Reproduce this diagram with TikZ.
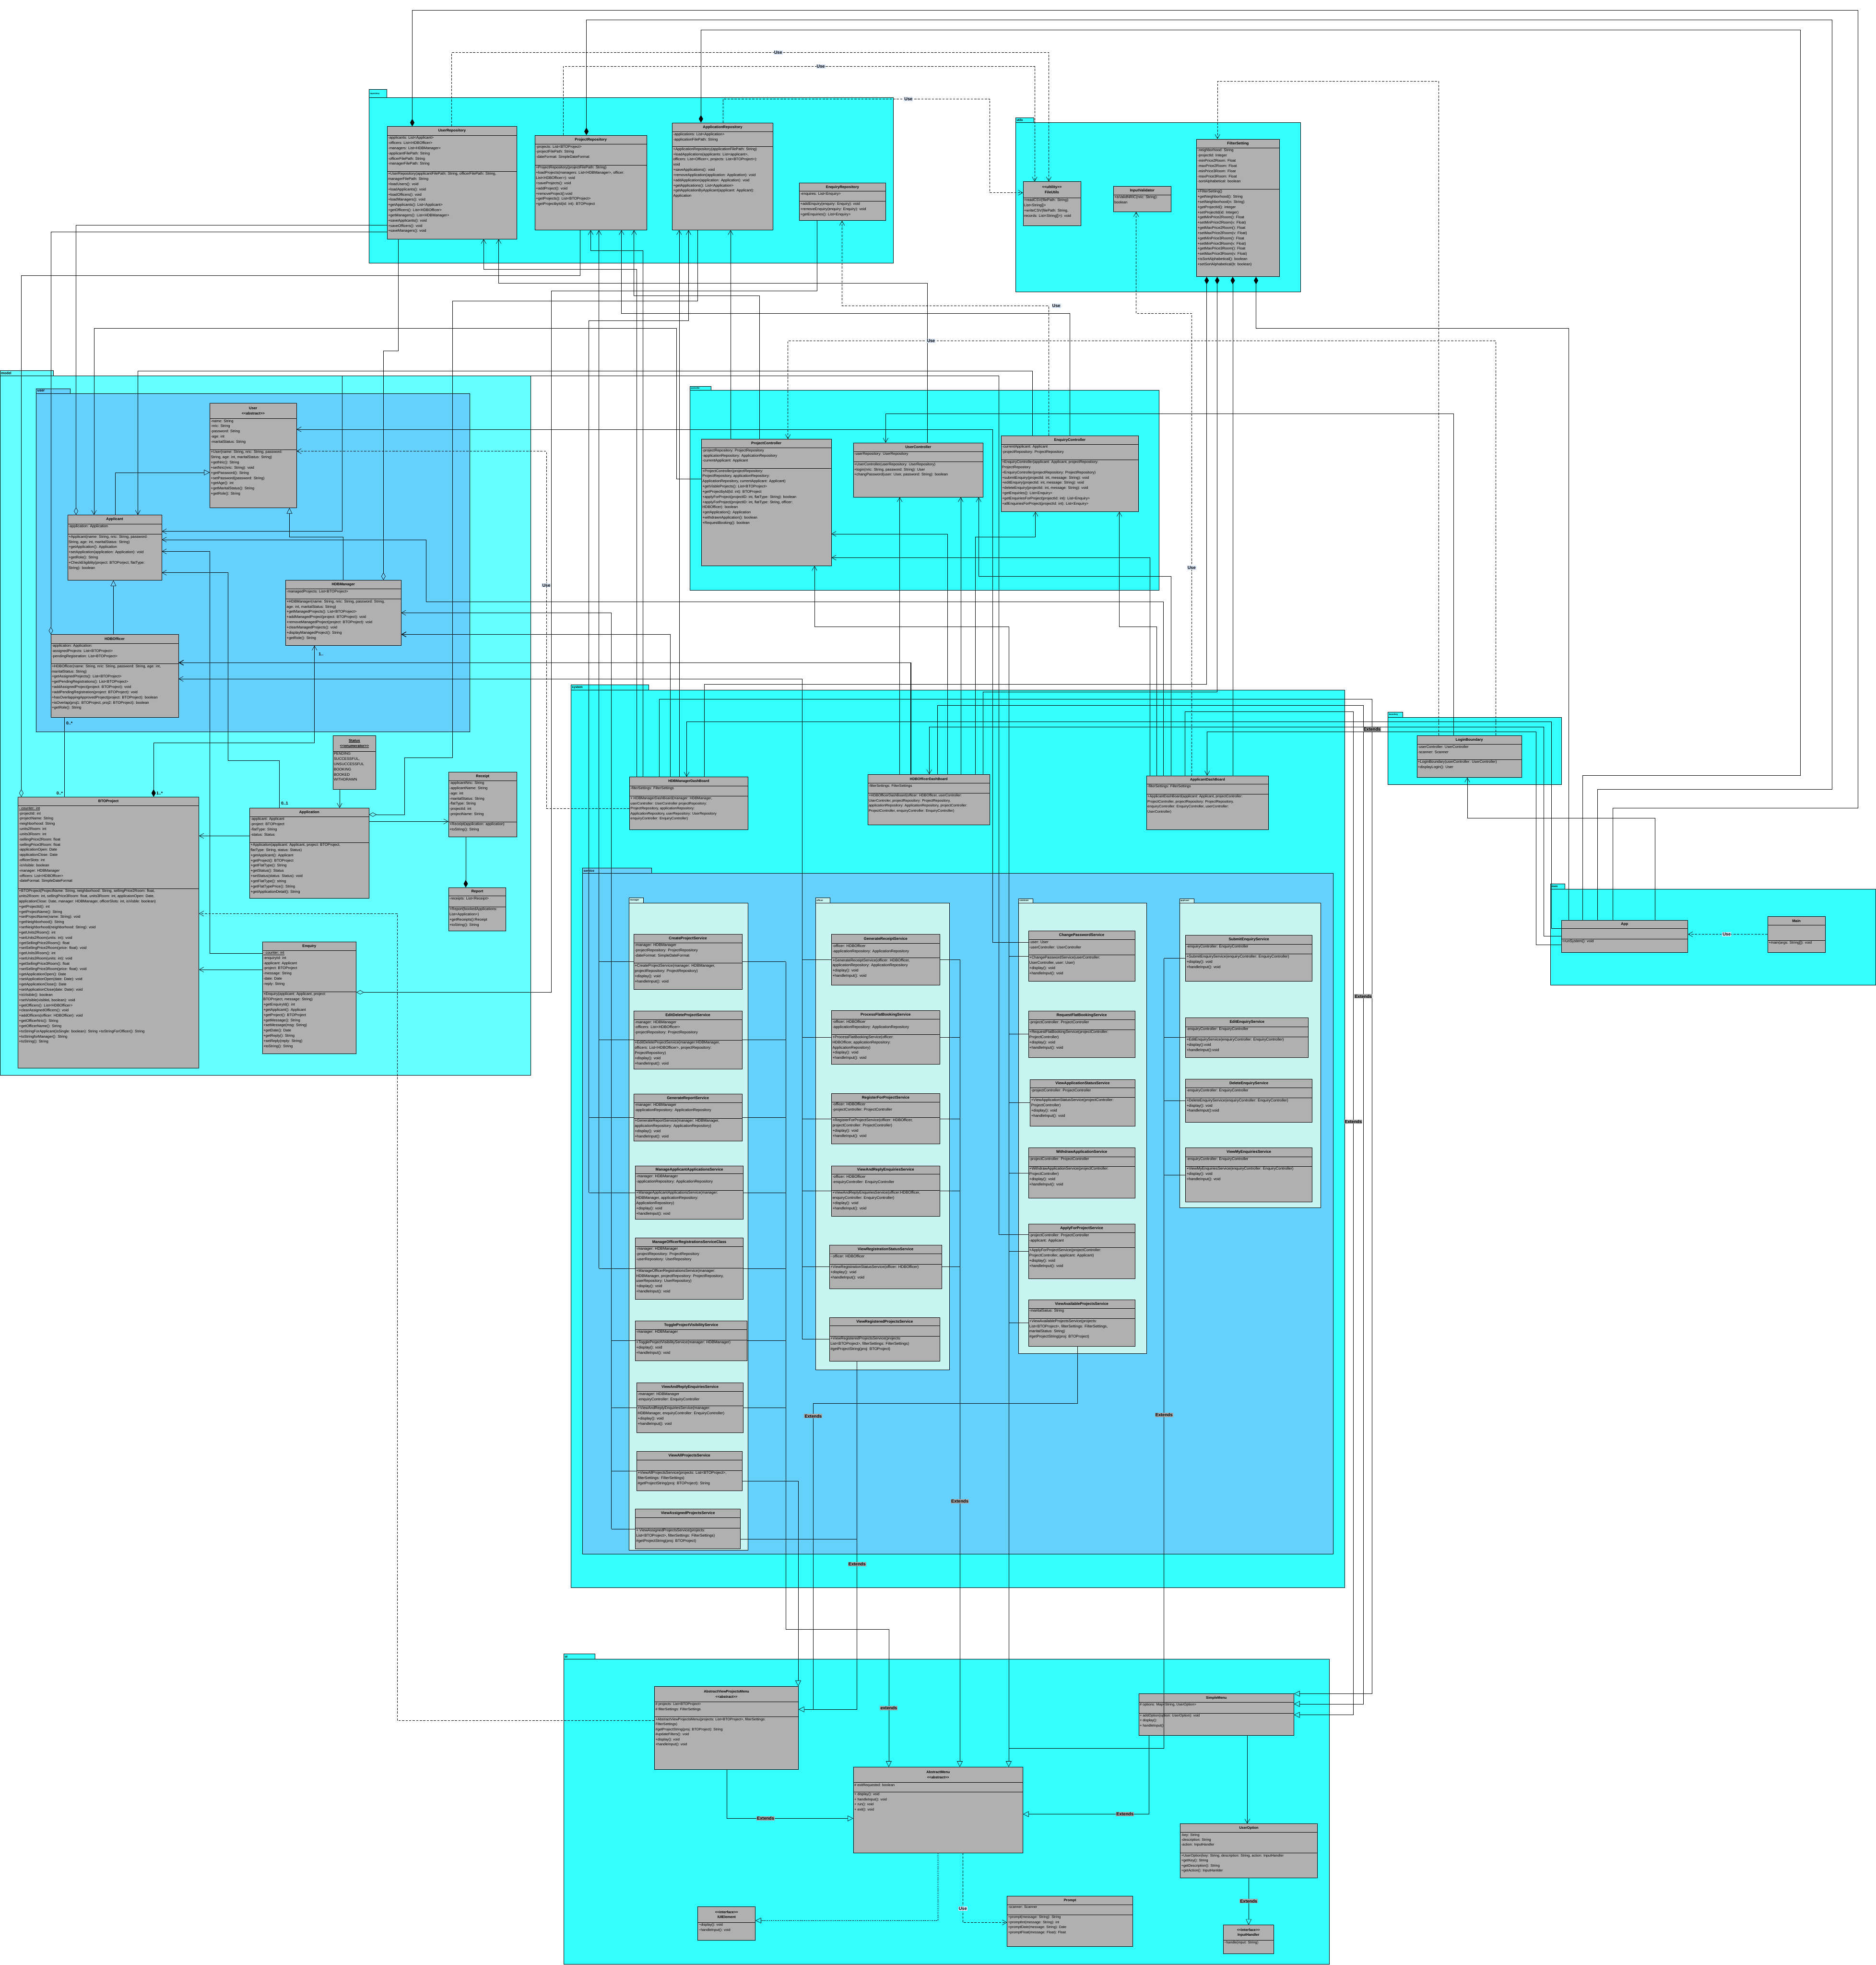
\documentclass[tikz,border=0pt]{standalone}
\usepackage{fontspec}
\setmainfont{Liberation Sans}
\usetikzlibrary{arrows.meta,positioning,fit,calc}

\definecolor{pkgcyan}{RGB}{51,255,255}
\definecolor{pkgmodel}{RGB}{102,255,255}
\definecolor{pkgblue}{RGB}{102,209,255}
\definecolor{pkgpale}{RGB}{200,245,242}
\definecolor{clsgray}{RGB}{176,176,176}
\definecolor{extgray}{RGB}{165,165,165}
\definecolor{usefill}{RGB}{214,228,245}

\newcommand{\st}[1]{<{}<#1>{}>}
\newcommand{\clsfont}{\fontsize{8.4}{11.8}\selectfont}

% class box: name, nw corner, se corner, y of title line, y of attribute line, title, attributes, operations
\newcommand{\umlclass}[8]{%
  \coordinate (#1-nw) at (#2);
  \coordinate (#1-se) at (#3);
  \node[clsbox, fit=(#1-nw)(#1-se)] (#1) {};
  \draw[line width=0.8pt] (#1-nw |- 0,#4) -- (#1-se |- 0,#4);
  \draw[line width=0.8pt] (#1-nw |- 0,#5) -- (#1-se |- 0,#5);
  \path (#1-nw) -- (#1-se |- 0,#4) node[midway, clstitle] (#1-title) {#6};
  \node[clstext, anchor=north west] (#1-attrs) at (#1-nw |- 0,#4) {#7};
  \node[clstext, anchor=north west] (#1-ops) at (#1-nw |- 0,#5) {#8};
}
% package: name, nw corner, se corner, tab width, tab height, colour, label size
\newcommand{\umlpkg}[7]{%
  \draw[fill=#6, line width=0.6pt] (#2) rectangle (#3);
  \draw[fill=#6, line width=0.6pt] (#2) rectangle ++(#4,-#5);
  \node[pkgtab, font=\fontsize{#7}{#7}\selectfont\bfseries] (#1pkg) at ($(#2)+(0.4,-#5/2)$) {#1};
}

\tikzset{
  clsbox/.style={draw, fill=clsgray, inner sep=0pt, line width=0.8pt},
  clstitle/.style={font=\clsfont\bfseries, align=center, inner sep=0pt},
  clstext/.style={font=\clsfont, align=left, inner sep=0.7mm},
  pkgtab/.style={inner sep=0.3mm, anchor=west},
  conn/.style={draw, line width=0.7pt},
  assoc/.style={conn, -{Straight Barb[length=3.5mm, width=4mm]}},
  thickassoc/.style={assoc, line width=1.4pt},
  dep/.style={assoc, dash pattern=on 5pt off 3pt},
  inherit/.style={conn, -{Triangle[open, length=4.5mm, width=4.5mm]}},
  realize/.style={inherit, dash pattern=on 3pt off 2pt},
  comp/.style={conn, {Diamond[length=6mm, width=3.4mm]}-},
  compassoc/.style={conn, {Diamond[length=6mm, width=3.4mm]}-{Straight Barb[length=3.5mm, width=4mm]}},
  agg/.style={conn, {Diamond[open, length=6mm, width=3.4mm]}-},
  ext/.style={font=\fontsize{10}{12}\selectfont\bfseries, fill=extgray, inner sep=0.4mm},
  usel/.style={font=\fontsize{10}{12}\selectfont\bfseries, fill=usefill, inner sep=0.4mm},
  mult/.style={font=\fontsize{9.5}{11}\selectfont\bfseries, inner sep=0.3mm},
}

\begin{document}
\begin{tikzpicture}[x=1mm, y=-1mm]
\useasboundingbox (0,0) rectangle (1497,1568);

% packages
\umlpkg{repository}{294.5,78}{713,210}{14}{6.7}{pkgcyan}{4.5}
\umlpkg{utils}{810.5,97.8}{1038,233}{14.5}{3.8}{pkgcyan}{7}
\umlpkg{model}{0,299.7}{423.4,858}{42.7}{4}{pkgmodel}{8}
\umlpkg{user}{29,314}{375,584}{27}{4}{pkgblue}{8}
\umlpkg{controller}{550.4,311.2}{925,471}{17}{2.8}{pkgcyan}{4.5}
\umlpkg{system}{455.7,550.7}{1073,1267}{62}{4.5}{pkgcyan}{7}
\umlpkg{service}{465,697}{1064,1240}{55}{4.5}{pkgblue}{7}
\umlpkg{manager}{502,720.7}{597,1236.8}{11.6}{4.4}{pkgpale}{5}
\umlpkg{officer}{650.8,720.7}{757.6,1093}{11.6}{4.4}{pkgpale}{5}
\umlpkg{common}{812.8,720.6}{915,1080}{11.5}{3.6}{pkgpale}{5}
\umlpkg{applicant}{941.3,720.6}{1053.8,963.5}{11.5}{3.6}{pkgpale}{4.5}
\umlpkg{boundary}{1107.7,572.3}{1246,626}{11.7}{4.1}{pkgcyan}{4.5}
\umlpkg{main}{1237.5,709.3}{1497,786}{11.5}{4.1}{pkgcyan}{6}
\umlpkg{ui}{450,1323.7}{1061,1567.4}{24.6}{3.9}{pkgcyan}{7}

% repository
\umlclass{urepo}{309,101}{412.5,190.6}{108}{136.7}{UserRepository}
  {-applicants: List<Applicant>\\-officers: List<HDBOfficer>\\-managers: List<HDBManager>\\-applicantFilePath: String\\-officerFilePath: String\\-managerFilePath: String}
  {+UserRepository(applicantFilePath: String, officerFilePath: String,\\managerFilePath: String\\+loadUsers(): void\\+loadApplicants(): void\\+loadOfficers(): void\\+loadManagers(): void\\+getApplicants(): List<Applicant>\\+getOfficers(): List<HDBOfficer>\\+getManagers(): List<HDBManager>\\+saveApplicants(): void\\+saveOfficers(): void\\+saveManagers(): void}
\umlclass{prepo}{427,108}{516,183.5}{115}{131.8}{ProjectRepository}
  {-projects: List<BTOProject>\\-projectFilePath: String\\-dateFormat: SimpleDateFormat}
  {+ProjectRepository(projectFilePath: String)\\+loadProjects(managers: List<HDBManager>, officer:\\List<HDBOfficer>): void\\+saveProjects(): void\\+addProject(): void\\+removeProject():void\\+getProjects(): List<BTOProject>\\+getProjectbyId(id: int): BTOProject}
\umlclass{arepo}{536.5,98}{617,183.5}{105.2}{117}{ApplicationRepository}
  {-applications: List<Application>\\-applicationFilePath: String}
  {+ApplicationRepository(applicationFilePath: String)\\+loadApplications(applicants: List<applicant>,\\officers: List<Officer>, projects: List<BTOProject>):\\void\\+saveApplications(): void\\+removeApplication(application: Application): void\\+addApplication(application: Application): void\\+getApplications(): List<Application>\\+getApplicationByApplicant(applicant: Applicant):\\Application}
\umlclass{erepo}{638,146}{706.7,176}{152.6}{160.7}{EnquiryRepository}
  {-enquires: List<Enquiry>}
  {+addEnquiry(enquiry: Enquiry): void\\+removeEnquiry(enquiry: Enquiry): void\\+getEnquiries(): List<Enquiry>}

% utils
\umlclass{futils}{816.5,145}{862.5,180}{157.7}{157.7}{\st{ultility}\\FileUtils}{}
  {+readCSV(filePath: String):\\List<String[]>\\+writeCSV(filePath: String,\\records: List<String[]>): void}
\umlclass{ival}{888.5,148.6}{934.6,169}{155.5}{155.5}{InputValidator}{}
  {+isValidNRIC(nric: String):\\boolean}
\umlclass{fset}{955,111}{1021,220.7}{118}{150.9}{FilterSetting}
  {-neighborhood: String\\-projectId: Integer\\-minPrice2Room: Float\\-maxPrice2Room: Float\\-minPrice3Room: Float\\-maxPrice3Room: Float\\-sortAlphabetical: boolean}
  {+FIlterSetting()\\+getNeighborhood(): String\\+setNeighborhood(n: String)\\+getProjectId(): Integer\\+setProjectId(id: Integer)\\+getMinPrice2Room(): Float\\+setMinPrice2Room(v: Float)\\+getMaxPrice2Room(): Float\\+setMaxPrice2Room(v: Float)\\+getMinPrice3Room(): Float\\+setMinPrice3Room(v: Float)\\+getMaxPrice3Room(): Float\\+setMaxPrice3Room(v: Float)\\+isSortAlphabetical(): boolean\\+setSortAlphabetical(b: boolean)}

% model
\umlclass{user}{167.5,321.8}{236.6,405.2}{334}{358.8}{User\\\st{abstract}}
  {-name: String\\-nric: String\\-password: String\\-age: int\\-maritalStatus: String}
  {+User(name: String, nric: String, password:\\String, age: int, maritalStatus: String)\\+getNric(): String\\+setNric(nric: String): void\\+getPassword(): String\\+setPassword(password: String)\\+getAge(): int\\+getMaritalStatus(): String\\+getRole(): String}
\umlclass{applicant}{54,411}{129,463}{418}{426.3}{Applicant}
  {-application: Application}
  {+Applicant(name: String, nric: String, password:\\String, age: int, maritalStatus: String)\\+getApplication(): Application\\+setApplication(application: Application): void\\+getRole(): String\\+CheckEligiblity(project: BTOPorject, flatType:\\String): boolean}
\umlclass{hmgr}{228,463}{320,515}{470}{478}{HDBManager}
  {-managedProjects: List<BTOProject>}
  {+HDBManager(name: String, nric: String, password: String,\\age: int, maritalStatus: String)\\+getManagedProjects(): List<BTOProject>\\+addManagedProject(project: BTOProject): void\\+removeManagedProject(project: BTOProject): void\\+clearManagedProjects(): void\\+displayManagedProject(): String\\+getRole(): String}
\umlclass{hoff}{40.6,506.4}{142.4,572.6}{513.4}{529.7}{HDBOfficer}
  {-application: Application:\\-assignedProjects: List<BTOProject>\\-pendingRegistration: List<BTOProject>}
  {+HDBOfficer(name: String, nric: String, password: String, age: int,\\maritalStatus: String)\\+getAssignedProjects(): List<BTOProject>\\+getPendingRegistrations(): List<BTOProject>\\+addAssignedProject(project: BTOProject): void\\+addPendingRegistration(project: BTOProject): void\\+hasOverlappingApprovedProject(project: BTOProject): boolean\\+isOverlap(proj1: BTOProject, proj2: BTOProject): boolean\\+getRole(): String}
\umlclass{btop}{14.4,636}{158.7,852.3}{643}{709}{BTOProject}
  {\underline{- counter: int}\\-projectId: int\\-projectName: String\\-neighborhood: String\\-units2Room: int\\-units3Room: int\\-sellingPrice2Room: float\\-sellingPrice3Room: float\\-applicationOpen: Date\\-applicationClose: Date\\-officerSlots: int\\-isVisible: boolean\\-manager: HDBManager\\-officers: List<HDBOfficer>\\-dateFormat: SimpleDateFormat}
  {+BTOProject(ProjectName: String, neighborhood: String, sellingPrice2Room: float,\\units2Room: int, sellingPrice3Room: float, units3Room: int, applicaionOpen: Date,\\applicationClose: Date, manager: HDBManager, officerSlots: int, isVisble: boolean)\\+getProjectId(): int\\+getProjectName(): String\\+setProjectName(name: String): void\\+getNeighborhood(): String\\+setNeighborhood(neighborhood: String): void\\+getUnits2Room(): int\\+setUnits2Room(units: int): void\\+getSellingPrice2Room(): float\\+setSellingPrice2Room(price: float): void\\+getUnits3Room(): int\\+setUnits3Room(units: int): void\\+getSellingPrice3Room(): float\\+setSellingPrice3Room(price: float): void\\+getApplicationOpen(): Date\\+setApplicationOpen(date: Date): void\\+getApplicationClose(): Date\\+setApplicationClose(date: Date): void\\+isVisible(): boolean\\+setVisible(visibleL boolean): void\\+getOfficers(): List<HDBOfficer>\\+clearAssignedOfficers(): void\\+addOfficers(officer: HDBOfficer): void\\+getOfficerNric(): String\\+getOfficerName(): String\\+toStringForApplicant(isSingle: boolean): String +toStringForOfficer(): String\\+toStringforManager(): String\\+toString(): String}
\umlclass{status}{265.7,587}{300,630}{599.6}{599.6}{\underline{Status}\\\underline{\st{enumerator}}}{}
  {PENDING\\SUCCESSFUL,\\UNSUCCESSFUL\\BOOKING\\BOOKED\\WITHDRAWN}
\umlclass{appl}{199.3,644.8}{294.4,716.8}{651.6}{672.2}{Application}
  {-applicant: Applicant\\-project: BTOProject\\-flatType: String\\-status: Status}
  {+Application(applicant: Applicant, project: BTOProject,\\flatType: String, status: Status)\\+getApplicant(): Applicant\\+getProject(): BTOProject\\+getFlatType(): String\\+getStatus(): Status\\+setStatus(status: Status): void\\+getFlatType(): string\\+getFlatTypePrice(): String\\+getApplicationDetail(): String}
\umlclass{receipt}{358,616}{412.5,667.7}{622.8}{655.8}{Receipt}
  {-applicantNric: String\\-applicantName: String\\-age: int\\-maritalStatus: String\\-flatType: String\\-projectId: int\\-projectName: String}
  {+Receipt(application: application)\\+toString(): String}
\umlclass{report}{358,708.3}{403.8,742.7}{715}{723.6}{Report}
  {-receipts: List<Receipt>}
  {+Report(bookedApplications:\\List<Application>)\\+getReceipts():Receipt\\+toString(): String}
\umlclass{enq}{209.4,751.5}{284.3,840.8}{758.3}{791.4}{Enquiry}
  {\underline{- counter: int}\\-enquiryId: int\\-applicant: Applicant\\-project: BTOProject\\-message: String\\-date: Date\\-reply: String}
  {+Enquiry(applicant: Applicant, project:\\BTOProject, message: String)\\+getEnquiryId(): int\\+getApplicant(): Applicant\\+getProject(): BTOProject\\+getMessage(): String\\+setMessage(msg: String)\\+getDate(): Date\\+getReply(): String\\+setReply(reply: String)\\+toString(): String}

% controller
\umlclass{pctrl}{559.8,350.5}{663.4,451.4}{357.4}{373.8}{ProjectController}
  {-projectRepository: ProjectRepository\\-applicationRepository: ApplicationRepository\\-currentApplicant: Applicant}
  {+ProjectController(projectRepository:\\ProjectRepository, applicationRepository:\\ApplicationRepository, currentApplicant: Applicant)\\+getVisbleProjects(): List<BTOProject>\\+getProjectbyId(Id: int): BTOProject\\+applyForProject(projectID: int, flatType: String): boolean\\+applyForProject(projectID: int, flatType: String, officer:\\HDBOfficer): boolean\\+getApplication(): Application\\+withdrawnApplication(): boolean\\+RequestBooking(): boolean}
\umlclass{uctrl}{681,353.4}{784.7,396.6}{360.3}{368.5}{UserController}
  {-userRepository: UserRepository}
  {+UserController(userRepository: UserRepository)\\+login(nric: String, password: String): User\\+changPassword(user: User, password: String): boolean}
\umlclass{ectrl}{799,347.7}{908.6,408.2}{354.5}{366.7}{EnquiryController}
  {-currentApplicant: Applicant\\-projectRepository: ProjectRepository}
  {+EnquiryController(applicant: Applicant, projectRepostiory:\\ProjectRepostory\\+EnquiryController(projectRepository: ProjectRepository)\\+submitEnquiry(projectId: int, message: String): void\\+editEnquiry(projectId: int, message: String): void\\+deleteEnquiry(projectId: int, message: String): void\\+getEnquiries(): List<Enquiry>\\+getEnquiriesForProject(projectId: int): List<Enquiry>\\+allEnquiriesForProject(projectId: int): List<Enquiry>}

% boundary and main
\umlclass{lb}{1130.8,587}{1214.4,620.3}{594}{606}{LoginBoundary}
  {-userController: UserController\\-scanner: Scanner}
  {+LoginBoundary(userController: UserController)\\+displayLogin(): User}
\umlclass{app}{1246,734.2}{1347,760}{741}{749.3}{App}{}{+runSystem(): void}
\umlclass{mainc}{1410.7,731.3}{1456.6,760}{738.2}{750.4}{Main}{}{+main(args: String[]): void}

% system dashboards
\renewcommand{\clsfont}{\fontsize{8}{11.3}\selectfont}
\umlclass{mdash}{502.4,620}{597,662}{627.2}{635.3}{HDBManagerDashBoard}
  {-filterSettings: FilterSettings}
  {+ HDBManagerDashBoard(manager: HDBManager,\\userController: UserController projectRepository:\\ProjectRepository, applicationRepsoitory:\\ApplicationRepository, userRepository: UserRepository\\enquiryController: EnquiryController)}
\umlclass{odash}{692.5,618}{790,658.3}{625}{633}{HDBOfficerDashBoard}
  {-filterSettings: FilterSettings}
  {+HDBOfficerDashBoard(officer: HDBOfficer, userController:\\UserControler, projectRepository: ProjectRepository,\\applicationRepository: ApplicationRepository, projectController:\\ProjectController, enquiryController: EnquiryController)}
\umlclass{adash}{915,619}{1012.4,662}{625.6}{633.8}{ApplicantDashBoard}
  {-filterSettings: FilterSettings}
  {+ApplicantDashBoard(applicant: Applicant, projectController:\\ProjectController, projectRepository: ProjectRepository,\\enquiryController: EnquiryController, userController:\\UserController)}

% services
\renewcommand{\clsfont}{\fontsize{8.6}{11.9}\selectfont}
\umlclass{cps}{505.8,745.5}{592.2,789.3}{752.2}{768.5}{CreateProjectService}
  {-manager: HDBManager\\-projectRepository: ProjectRepository\\-dateFormat: SimpleDateFormat}
  {+CreateProjectService(manager: HDBManager,\\projectRepository: ProjectRepository)\\+display(): void\\+handleInput(): void}
\umlclass{edps}{505.8,806.7}{592.2,852.9}{813.7}{830}{EditDeleteProjectService}
  {-manager: HDBManager\\-officers: List<HDBOfficer>\\-projectRepository: ProjectRepository}
  {+EditDeleteProjectService(manager:HDBManager,\\officers: List<HDBOfficer>, projectRepository:\\ProjectRepository)\\+display(): void\\+handleInput(): void}
\umlclass{grs}{505.8,873}{592.2,910.5}{879.7}{892.4}{GenerateReportService}
  {-manager: HDBManager\\-applicationRepository: ApplicationRepository}
  {+GenerateReportService(manager: HDBManager,\\applicationRepository: ApplicationRepository)\\+display(): void\\+handleInput(): void}
\umlclass{maas}{507,930.2}{593.3,973}{936.6}{949.7}{ManageApplicantApplicationsService}
  {-manager: HDBManager\\-applicationRepository: ApplicationRepository}
  {+ManageApplicantApplicationsService(manager:\\HDBManager, applicationRepository:\\ApplicationRepository)\\+display(): void\\+handleInput(): void}
\umlclass{mors}{507,987.8}{593.3,1036.7}{994.5}{1011.9}{ManageOfficerRegistrationsServiceClass}
  {-manager: HDBManager\\-projectRepository: ProjectRepository\\-userRepository: UserRepository}
  {+ManageOfficerRegistrationsService(manager:\\HDBManager, projectRepository: ProjectRepository,\\userRepository: UserRepository)\\+display(): void\\+handleInput(): void}
\umlclass{tpvs}{507,1054}{596.2,1085.6}{1060.8}{1069.2}{ToggleProjectVisibilityService}
  {-manager: HDBManager}
  {+ToggleProjectVisibilityService(manager: HDBManager)\\+display(): void\\+handleInput(): void}
\umlclass{mvres}{508.2,1103.4}{593.2,1143.2}{1110.4}{1121.7}{ViewAndReplyEnquiriesService}
  {-manager: HDBManager\\-enquiryController: EnquiryController}
  {+ViewAndReplyEnquiriesService(manager:\\HDBManager, enquiryController: EnquiryController)\\+display(): void\\+handleInput(): void}
\umlclass{vaps}{508.2,1158}{592.2,1189.7}{1165}{1173.4}{ViewAllProjectsService}{}
  {+ViewAllProjectsService(projects: List<BTOProject>,\\filterSettings: FilterSettings)\\\#getProjectString(proj: BTOProject): String}
\umlclass{vasps}{507,1204}{591,1236}{1211}{1219.2}{ViewAssignedProjectsService}{}
  {+ ViewAssignedProjectsService(projects:\\List<BTOProject>, filterSettings: FilterSettings)\\\#getProjectString(proj: BTOProject)}

\umlclass{grcs}{663.6,745.5}{750,786}{752.8}{764.2}{GenerateReceiptService}
  {-officer: HDBOfficer\\-applicationRepository: ApplicationRepository}
  {+GenerateReceiptService(officer: HDBOfficer,\\applicationRepository: ApplicationRepository\\+display(): void\\+handleInput(): void}
\umlclass{pfbs}{663.6,806.4}{750,849.2}{813.4}{825.5}{ProcessFlatBookingService}
  {-officer: HDBOfficer\\-applicationRepository: ApplicationRepository}
  {+ProcessFlatBookingService(officer:\\HDBOfficer, applicationRepository:\\ApplicationRepository)\\+display(): void\\+handleInput(): void}
\umlclass{rfps}{663.6,872.7}{750,912.8}{879.4}{891.8}{RegisterForProjectService}
  {-officer: HDBOfficer\\-projectController: ProjectController}
  {+RegisterForProjectService(officer: HDBOfficer,\\projectController: ProjectController)\\+display(): void\\+handleInput(): void}
\umlclass{ovres}{663.6,930.2}{750,970.4}{937}{949.7}{ViewAndReplyEnquiriesService}
  {-officer: HDBOfficer\\-enquiryController: EnquiryController}
  {+ViewAndReplyEnquiriesService(officer:HDBOfficer,\\enquiryController: EnquiryController)\\+display(): void\\+handleInput(): void}
\umlclass{vrss}{662,993.5}{751.5,1028.3}{1000.5}{1009}{ViewRegistrationStatusService}
  {- officer: HDBOfficer}
  {+ViewRegistrationStatusService(officer: HDBOfficer)\\+display(): void\\+handleInput(): void}
\umlclass{vrps}{662,1051.4}{750,1086}{1058}{1066.2}{ViewRegisteredProjectsService}{}
  {+ViewRegisteredProjectsService(projects:\\List<BTOProject>, filterSettings: FilterSettings)\\\#getProjectString(proj: BTOProject)}

\umlclass{chps}{820.7,742.7}{905.8,783.1}{749.8}{762}{ChangePasswordService}
  {-user: User\\-userController: UserController}
  {+ChangePasswordService(userController:\\UserController, user: User)\\+display(): void\\+handleInput(): void}
\umlclass{rfbs}{820.7,806.6}{905.8,843.8}{813.7}{821.5}{RequestFlatBookingService}
  {-projectController: ProjectController}
  {+RequestFlatBookingService(projectController:\\ProjectController)\\+display(): void\\+handleInput(): void}
\umlclass{vass}{822.2,861.3}{905.8,898.4}{868}{875.8}{ViewApplicationStatusService}
  {-projectController: ProjectController}
  {+ViewApplicationStatusService(projectController:\\ProjectController)\\+display(): void\\+handleInput(): void}
\umlclass{was}{820.7,916}{905.8,956.2}{922.9}{930.7}{WithdrawApplicationService}
  {-projectController: ProjectController}
  {+WithdrawApplicationService(projectController:\\ProjectController)\\+display(): void\\+handleInput(): void}
\umlclass{afps}{820.7,976.6}{905.8,1020.3}{983.6}{995.5}{ApplyForProjectService}
  {-projectController: ProjectController\\-applicant: Applicant}
  {+ApplyForProjectService(projectController:\\ProjectController, applicant: Applicant)\\+display(): void\\+handleInput(): void}
\umlclass{vavps}{820.7,1037}{905.8,1074.4}{1044}{1052.1}{ViewAvailableProjectsService}
  {-maritalSatus: String}
  {+ViewAvailableProjectsService(projects:\\List<BTOProject>, filterSettings: FilterSettings,\\maritalStatus: String)\\\#getProjectString(proj: BTOProject)}

\umlclass{ses}{946.2,746.4}{1047.2,783}{753.4}{761.2}{SubmitEnquiryService}
  {-enquiryController: EnquiryController}
  {+SubmitEnquiryService(enquiryController: EnquiryController)\\+display(): void\\+handleInput(): void}
\umlclass{ees}{946.2,812}{1044.2,843.8}{819.2}{827.5}{EditEnquiryService}
  {-enquiryController: EnquiryController}
  {+EditEnquiryService(enquiryController: EnquiryController)\\+display():void\\+handleInput():void}
\umlclass{des}{946.2,861}{1047.2,895.7}{868}{876}{DeleteEnquiryService}
  {-enquiryController: EnquiryController}
  {+DeleteEnquiryService(enquiryController: EnquiryController)\\+display(): void\\+handleInput():void}
\umlclass{vmes}{946.2,915.9}{1047.2,959}{922.9}{930.7}{ViewMyEnquiriesService}
  {-enquiryController: EnquiryController}
  {+ViewMyEnquiriesService(enquiryController: EnquiryController)\\+display(): void\\+handleInput(): void}

% ui
\renewcommand{\clsfont}{\fontsize{8}{11.4}\selectfont}
\umlclass{avpm}{522.4,1345.6}{637.2,1412}{1358}{1370}{AbstractViewProjectsMenu\\\st{abstract}}
  {\# projects: List<BTOProject>\\\# filterSettings: FilterSettings}
  {+AbstractViewProjectsMenu(projects: List<BTOProject>, filterSettings:\\FilterSettings)\\\#getProjectString(proj: BTOProject): String\\\#updateFilters(): void\\+display(): void\\+handleInput(): void}
\umlclass{amenu}{681.1,1410}{816.3,1478.4}{1422.4}{1430}{AbstractMenu\\\st{abstract}}
  {\# exitRequested: boolean}
  {+ display(): void\\+ handleInput(): void\\+ run(): void\\+ exit(): void}
\umlclass{smenu}{908.8,1351.4}{1032.6,1384.6}{1358.3}{1367}{SimpleMenu}
  {\# options: Map<String, UserOption>}
  {+ addOption(option: UserOption): void\\+ display():\\+ handleInput():}
\umlclass{uopt}{942,1455.3}{1051.4,1498.4}{1462.2}{1478.7}{UserOption}
  {-key: String\\-description: String\\-action: InputHandler}
  {+UserOption(key: String, description: String, action: InputHandler\\+getKey(): String\\+getDescription(): String\\+getAction(): InputHanlder}
\umlclass{iui}{556.9,1521.6}{602.8,1548.2}{1534}{1534}{\st{interface}\\IUIElement}{}
  {\textasciitilde display(): void\\\textasciitilde handleInput(): void}
\umlclass{prompt}{803.8,1513}{904,1553.3}{1520}{1528}{Prompt}
  {-scanner: Scanner}
  {+prompt(message: String): String\\+promptInt(message: String): int\\+promptDate(message: String): Date\\+promptFloat(message: Float): Float}
\umlclass{ihandler}{976.2,1536.1}{1016.5,1559}{1548.3}{1548.3}{\st{interface}\\InputHandler}{}
  {\textasciitilde handle(input: String)}

% bus coordinates
\coordinate (mbusr) at (627,0);
\coordinate (mbusl) at (488,0);
\coordinate (mbusp) at (478,0);
\coordinate (mbusa) at (470,0);
\coordinate (obusl) at (640,0);
\coordinate (obusr) at (766,0);
\coordinate (cbus) at (805,0);
\coordinate (abus) at (929,0);

% model relations
\draw[inherit] (applicant.north -| 92,0) |- (user.west |- 0,377);
\draw[inherit] (hmgr.north -| 274,0) |- (231,428.5) -- (user.south -| 231,0);
\draw[inherit] (hoff.north -| 90.5,0) -- (applicant.south -| 90.5,0);
\draw[assoc] (appl.north -| 223,0) |- (182,607) |- (applicant.east |- 0,457);
\draw[assoc] (enq.west |- 0,760.8) -| (167.5,440) -- (applicant.east |- 0,440);
\draw[assoc] (appl.west |- 0,667) -- (btop.east |- 0,667);
\draw[assoc] (enq.west |- 0,773.7) -- (btop.east |- 0,773.7);
\draw[assoc] (status.south -| 271,0) -- (appl.north -| 271,0);
\draw[assoc] (appl.east |- 0,655.5) -- (receipt.west |- 0,655.5);
\draw[comp] (report.north -| 371.7,0) -- (receipt.south -| 371.7,0);
\draw[conn] (hoff.south -| 51.5,0) -- (btop.north -| 51.5,0);
\draw[compassoc] (btop.north -| 122.6,0) |- (251,592.7) -- (hmgr.south -| 251,0);
\draw[agg] (appl.east |- 0,650) -| (323,604.4) -| (361,240) -| (arepo.south -| 556.8,0);
\draw[agg] (enq.east |- 0,791.8) -| (440,232) -| (erepo.south -| 652,0);
\draw[dep] (avpm.west |- 0,1373) -| (317,729) -- (btop.east |- 0,729);
\draw[agg] (hmgr.north -| 306,0) -- (306,280) -| (urepo.south -| 318,0);
\draw[agg] (applicant.north -| 60.7,0) |- (urepo.west |- 0,179.5);
\draw[agg] (hoff.north -| 40.6,0) |- (urepo.west |- 0,185);
\draw[agg] (btop.north -| 17,0) |- (463,220) -- (prepo.south -| 463,0);

% controllers
\draw[assoc] (pctrl.north -| 583,0) -- (arepo.south -| 583,0);
\draw[assoc] (pctrl.north -| 606,0) |- (506,236) -- (prepo.south -| 506,0);
\draw[assoc] (pctrl.west |- 0,382) -| (540,262) -| (applicant.north -| 75,0);
\draw[assoc] (uctrl.north -| 740,0) |- (398,226) -- (urepo.south -| 398,0);
\draw[assoc] (ectrl.north -| 853.8,0) |- (496,250) -- (prepo.south -| 496,0);
\draw[assoc] (ectrl.north -| 824,0) |- (110,296) -- (applicant.north -| 110,0);
\draw[dep] (ectrl.north -| 836.8,0) |- (672,244) -- (erepo.south -| 672,0);

% dashboards
\draw[assoc] (mdash.north -| 508,0) |- (386,215) -- (urepo.south -| 386,0);
\draw[assoc] (mdash.north -| 513,0) |- (471.4,200) -- (prepo.south -| 471.4,0);
\draw[assoc] (mdash.north -| 542,0) -- (arepo.south -| 542,0);
\draw[thickassoc] (mdash.north -| 535,0) |- (hmgr.east |- 0,506.2);
\draw[dep] (mdash.west |- 0,645) -| (436,360) -- (user.east |- 0,360);
\draw[assoc] (odash.north -| 718,0) -- (uctrl.south -| 718,0);
\draw[assoc] (odash.north -| 766.7,0) -- (uctrl.south -| 766.7,0);
\draw[thickassoc] (odash.north -| 727,0) |- (hoff.east |- 0,528.8);
\draw[assoc] (odash.north -| 756,0) |- (pctrl.east |- 0,426);
\draw[assoc] (odash.north -| 778.5,0) |- (826.4,428.4) -- (ectrl.south -| 826.4,0);
\draw[assoc] (adash.north -| 917.8,0) |- (pctrl.east |- 0,445);
\draw[assoc] (adash.north -| 923,0) |- (893.3,500) -- (ectrl.south -| 893.3,0);
\draw[assoc] (adash.north -| 934.6,0) |- (781,460) -- (uctrl.south -| 781,0);
\draw[assoc] (adash.north -| 928.5,0) |- (340,480) |- (applicant.east |- 0,430.6);
\draw[dep] (adash.north -| 951,0) |- (906.7,250) -- (ival.south -| 906.7,0);
\draw[inherit] (mdash.north -| 526,0) |- (1095,558) |- (smenu.east |- 0,1351.5);
\draw[inherit] (odash.north -| 748,0) |- (1088,563) |- (smenu.east |- 0,1359.7);
\draw[inherit] (adash.north -| 945.8,0) |- (1080,568) |- (smenu.east |- 0,1368.4);

% app
\draw[comp] (urepo.north -| 329,0) -- (329,8) -| (1482.6,644.7) -| (app.north -| 1287,0);
\draw[comp] (prepo.north -| 468,0) -- (468,16) -| (1462,630) -| (app.north -| 1275,0);
\draw[comp] (arepo.north -| 559.4,0) -- (559.4,24) -| (1436.7,618.8) -| (app.north -| 1263,0);
\draw[comp] (fset.south -| 963,0) |- (562,546) -- (mdash.north -| 562,0);
\draw[comp] (fset.south -| 971.4,0) |- (784.6,552) -- (odash.north -| 784.6,0);
\draw[comp] (fset.south -| 983.8,0) -- (adash.north -| 983.8,0);
\draw[comp] (fset.south -| 1002.4,0) |- (1252,262) -- (app.north -| 1252,0);
\draw[assoc] (app.west |- 0,741) -| (1238,576) -| (mdash.north -| 548,0);
\draw[assoc] (app.west |- 0,747) -| (1232,580) -| (odash.north -| 741.6,0);
\draw[assoc] (app.west |- 0,753.7) -| (1226,584) -| (adash.north -| 963.4,0);
\draw[assoc] (app.north -| 1321,0) |- (1171,653) -- (lb.south -| 1171,0);
\draw[dep] (mainc.west |- 0,745.5) -- (app.east |- 0,745.5);

% boundary
\draw[assoc] (lb.north -| 1160,0) |- (706.8,330) -- (uctrl.north -| 706.8,0);
\draw[dep] (lb.north -| 1193.6,0) |- (628.8,272) -- (pctrl.north -| 628.8,0);
\draw[dep] (lb.north -| 1148,0) |- (971.6,65) -- (fset.north -| 971.6,0);

% repositories use FileUtils
\draw[dep] (urepo.north -| 360.5,0) |- (837,42) -- (futils.north -| 837,0);
\draw[dep] (prepo.north -| 449.4,0) |- (825.7,53) -- (futils.north -| 825.7,0);
\draw[dep] (arepo.north -| 577,0) |- (790,79) |- (futils.west |- 0,153.8);

% manager services
\foreach \s in {cps,edps,grs,maas,mors,tpvs,mvres,vaps,vasps}
  \draw[conn] (\s.west) -- (\s.west -| mbusl);
\foreach \s in {cps,edps,mors}
  \draw[conn] (\s.west -| mbusl) -- (\s.west -| mbusp);
\foreach \s in {grs,maas}
  \draw[conn] (\s.west -| mbusl) -- (\s.west -| mbusa);
\draw[assoc] (mbusl |- vasps.west) |- (hmgr.east |- 0,489);
\draw[assoc] (mbusp |- mors.west) -- (prepo.south -| mbusp);
\draw[assoc] (mbusa |- maas.west) |- (549.5,256) -- (arepo.south -| 549.5,0);
\foreach \s in {cps,edps,grs,maas,mors,tpvs,mvres}
  \draw[conn] (\s.east) -- (\s.east -| mbusr);
\draw[inherit] (mbusr |- cps.east) -- (627,1300) -| (amenu.north -| 709.3,0);
\draw[inherit] (vaps.east |- 0,1182) -| (avpm.north -| 637,0);
\draw[inherit] (vasps.east |- 0,1228) -| (684,1364) -- (avpm.east |- 0,1364);
\draw[conn] (vrps.south -| 684,0) -- (684,1228);
\draw[conn] (vavps.south -| 860,0) |- (649,1120) -- (649,1364);

% officer services
\foreach \s in {grcs,pfbs,rfps,ovres,vrss,vrps}
  \draw[conn] (\s.west) -- (\s.west -| obusl);
\draw[assoc] (obusl |- vrps.west) |- (hoff.east |- 0,541.7);
\foreach \s in {grcs,pfbs,rfps,ovres,vrss}
  \draw[conn] (\s.east) -- (\s.east -| obusr);
\draw[inherit] (obusr |- grcs.east) -- (amenu.north -| obusr);

% common services
\foreach \s in {chps,rfbs,vass,was,afps,vavps}
  \draw[conn] (\s.west) -- (\s.west -| cbus);
\draw[assoc] (cbus |- chps.west) |- (650,500) -- (pctrl.south -| 650,0);
\draw[inherit] (cbus |- chps.west) -- (amenu.north -| cbus);
\draw[assoc] (chps.west |- 0,752) -| (792,342.6) -- (user.east |- 0,342.6);
\draw[assoc] (afps.west |- 0,985) -| (797,300) -| (273,424) -- (applicant.east |- 0,424);

% applicant services
\foreach \s in {ses,ees,des,vmes}
  \draw[conn] (\s.west) -- (\s.west -| abus);
\draw[conn] (abus |- ses.west) |- (cbus |- 0,1395);

% ui
\draw[inherit] (avpm.south -| 580,0) |- (amenu.west |- 0,1451);
\draw[inherit] (smenu.south -| 917,0) |- (amenu.east |- 0,1447.6);
\draw[assoc] (smenu.south -| 995.4,0) -- (uopt.north -| 995.4,0);
\draw[inherit] (uopt.south -| 996.5,0) -- (ihandler.north -| 996.5,0);
\draw[realize] (amenu.south -| 748.6,0) |- (iui.east |- 0,1532.5);
\draw[dep] (amenu.south -| 768.4,0) |- (prompt.west |- 0,1534);

% labels
\node[usel] (use1) at (621,42) {Use};
\node[usel] (use2) at (655,53) {Use};
\node[usel] (use3) at (725,79) {Use};
\node[usel] (use4) at (843,244) {Use};
\node[usel] (use5) at (743,272) {Use};
\node[usel] (use6) at (436,467) {Use};
\node[usel] (use7) at (951,453) {Use};
\node[usel] (use8) at (1378,745.5) {Use};
\node[usel] (use9) at (768.4,1523) {Use};
\node[ext] (ext1) at (1095,582) {Extends};
\node[ext] (ext2) at (1088,795) {Extends};
\node[ext] (ext3) at (1080,895) {Extends};
\node[ext] (ext4) at (649,1130) {Extends};
\node[ext] (ext5) at (929,1129) {Extends};
\node[ext] (ext6) at (766,1198) {Extends};
\node[ext] (ext7) at (684,1248) {Extends};
\node[ext] (ext8) at (709.3,1363) {extends};
\node[ext] (ext9) at (611,1451) {Extends};
\node[ext] (ext10) at (897.8,1447.6) {Extends};
\node[ext] (ext11) at (996.5,1517) {Extends};
\node[mult, anchor=west] (m1) at (52.5,577) {0..*};
\node[mult, anchor=east] (m2) at (50.5,633) {0..*};
\node[mult, anchor=west] (m3) at (124.5,633) {1..*};
\node[mult, anchor=west] (m4) at (254,522) {1..};
\node[mult, anchor=west] (m5) at (224,641) {0..1};
\end{tikzpicture}
\end{document}
